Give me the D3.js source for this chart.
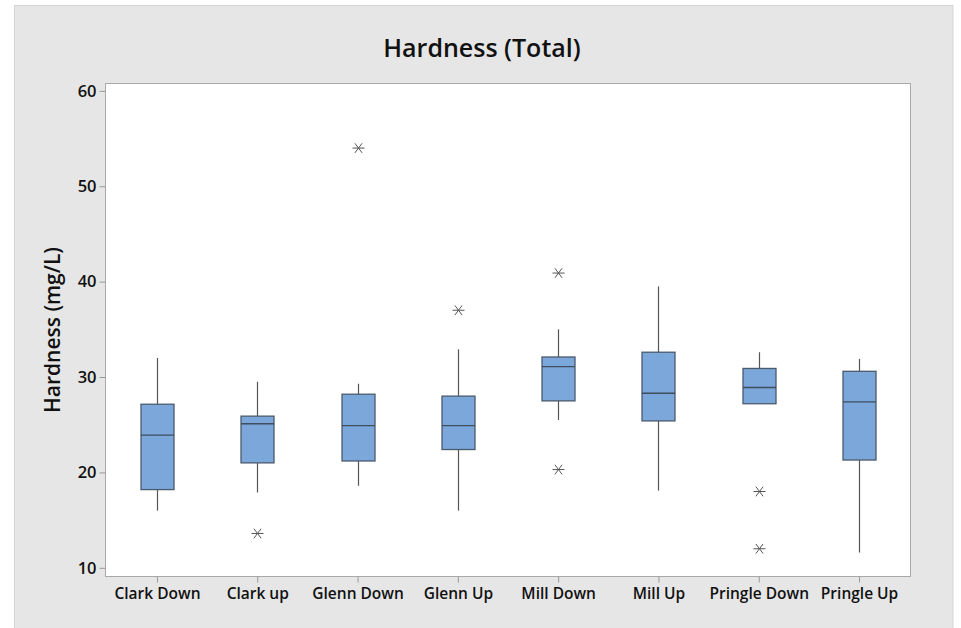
<!DOCTYPE html>
<html><head><meta charset="utf-8">
<script src="https://cdn.jsdelivr.net/npm/d3@7"></script>
<style>body{margin:0;background:#fff;}svg{display:block;}</style>
</head><body>
<script>
const categories = ["Clark Down","Clark up","Glenn Down","Glenn Up","Mill Down","Mill Up","Pringle Down","Pringle Up"];
const whiskerLow  = [16.0, 17.9, 18.6, 16.0, 25.5, 18.1, 27.2, 11.6];
const q1          = [18.2, 21.0, 21.2, 22.4, 27.5, 25.4, 27.2, 21.3];
const median      = [23.9, 25.1, 24.9, 24.9, 31.1, 28.3, 28.9, 27.4];
const q3          = [27.15, 25.9, 28.2, 28.0, 32.1, 32.6, 30.9, 30.6];
const whiskerHigh = [32.0, 29.5, 29.3, 32.9, 35.0, 39.5, 32.6, 31.9];
const outliers    = [[], [13.6], [54.0], [37.0], [40.9, 20.3], [], [18.0, 12.0], []];
const yTicks = [10, 20, 30, 40, 50, 60];
const title = "Hardness (Total)";
const yLabel = "Hardness (mg/L)";

const W = 961, H = 628;
const svg = d3.select("body").append("svg").attr("width", W).attr("height", H);
const font = "'Open Sans', 'Noto Sans', sans-serif";

svg.append("rect").attr("x", 14.5).attr("y", 5.5).attr("width", 938.5).attr("height", 640)
  .attr("fill", "#e6e6e6").attr("stroke", "#d4d4d4");

const plot = {l: 105.5, t: 83.5, r: 910.5, b: 576.5};
svg.append("rect").attr("x", plot.l).attr("y", plot.t).attr("width", plot.r - plot.l).attr("height", plot.b - plot.t)
  .attr("fill", "#fff").attr("stroke", "#a9a9a9");

const y = d3.scaleLinear().domain([9.09, 60.77]).range([plot.b, plot.t]);
const x = d3.scalePoint().domain(categories).range([plot.l, plot.r]).padding(0.513);

const yAxis = svg.append("g").attr("transform", `translate(${plot.l},0)`)
  .call(d3.axisLeft(y).tickValues(yTicks).tickSize(6).tickPadding(3).tickSizeOuter(0));
yAxis.select(".domain").remove();
yAxis.selectAll("line").attr("stroke", "#999");
yAxis.selectAll("text").attr("font-family", font).attr("font-size", 16.5).attr("font-weight", "600").attr("fill", "#111");

const xAxis = svg.append("g").attr("transform", `translate(0,${plot.b})`)
  .call(d3.axisBottom(x).tickSize(6).tickPadding(5).tickSizeOuter(0));
xAxis.select(".domain").remove();
xAxis.selectAll("line").attr("stroke", "#999");
xAxis.selectAll("text").attr("font-family", font).attr("font-size", 15.5).attr("font-weight", "600").attr("fill", "#111");

const bw = 33;
const g = svg.append("g");
categories.forEach((c, i) => {
  const cx = Math.round(x(c)) + 0.5;
  g.append("line").attr("x1", cx).attr("x2", cx).attr("y1", y(whiskerHigh[i])).attr("y2", y(q3[i])).attr("stroke", "#555").attr("stroke-width", 1.2);
  g.append("line").attr("x1", cx).attr("x2", cx).attr("y1", y(q1[i])).attr("y2", y(whiskerLow[i])).attr("stroke", "#555").attr("stroke-width", 1.2);
  g.append("rect").attr("x", cx - bw / 2).attr("y", y(q3[i])).attr("width", bw).attr("height", y(q1[i]) - y(q3[i]))
    .attr("fill", "#7ba7da").attr("stroke", "#4b5a6d").attr("stroke-width", 1.3);
  g.append("line").attr("x1", cx - bw / 2).attr("x2", cx + bw / 2).attr("y1", y(median[i])).attr("y2", y(median[i]))
    .attr("stroke", "#3f4d5e").attr("stroke-width", 1.3);
  outliers[i].forEach(v => {
    const oy = y(v), s = 6;
    const a = g.append("g").attr("transform", `translate(${cx},${oy})`).attr("stroke", "#555").attr("stroke-width", 1);
    a.append("line").attr("x1", -s).attr("x2", s).attr("y1", 0).attr("y2", 0);
    a.append("line").attr("x1", -s * 0.6).attr("x2", s * 0.6).attr("y1", -s * 0.8).attr("y2", s * 0.8);
    a.append("line").attr("x1", -s * 0.6).attr("x2", s * 0.6).attr("y1", s * 0.8).attr("y2", -s * 0.8);
  });
});

svg.append("text").attr("x", 482).attr("y", 57).attr("text-anchor", "middle")
  .attr("font-family", font).attr("font-size", 25).attr("font-weight", "600").attr("fill", "#111").text(title);

svg.append("text").attr("transform", `translate(60,${(plot.t + plot.b) / 2}) rotate(-90)`).attr("text-anchor", "middle")
  .attr("font-family", font).attr("font-size", 21).attr("font-weight", "600").attr("fill", "#111").text(yLabel);
</script>
</body></html>
